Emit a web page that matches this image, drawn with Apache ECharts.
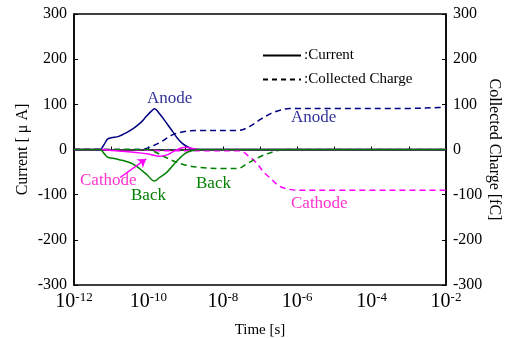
<!DOCTYPE html>
<html><head><meta charset="utf-8">
<script src="https://cdn.jsdelivr.net/npm/echarts@6/dist/echarts.min.js"></script>
<style>html,body{margin:0;padding:0;background:#fff}#c{width:515px;height:338px}</style>
</head><body><div id="c"></div>
<script>
// x values are log10(time [s])
var anodeCurrent = [[-12,0],[-11.3,0],[-11.2,10],[-11.1,23],[-11.0,26],[-10.8,29],[-10.6,37],[-10.4,47],[-10.2,60],[-10.05,74],[-9.92,85],[-9.84,90],[-9.7,79],[-9.5,57],[-9.35,40],[-9.22,25],[-9.08,13],[-8.95,6],[-8.8,1],[-8.6,0],[-2,0]];
var backCurrent = [[-12,0],[-11.3,0],[-11.2,-8],[-11.1,-17],[-11.0,-19],[-10.8,-22],[-10.4,-33],[-10.05,-55],[-9.84,-70],[-9.7,-62],[-9.5,-50],[-9.24,-26],[-9.0,-8],[-8.8,-2],[-8.6,0],[-2,0]];
var cathodeCurrent = [[-12,0],[-11.2,0],[-11.0,-2],[-10.4,-6],[-10.0,-10],[-9.7,-15],[-9.5,-12],[-9.3,-3],[-9.1,4],[-9.0,5],[-8.8,2],[-8.6,0],[-2,0]];
var anodeCharge = [[-12,0],[-10.2,0],[-10.0,4],[-9.7,15],[-9.34,33],[-9.0,40],[-8.7,42],[-7.6,42],[-7.3,50],[-7.0,66],[-6.7,80],[-6.46,87],[-6.2,91],[-5,91],[-3,91],[-2.2,93],[-2,94]];
var backCharge = [[-12,0],[-10.0,0],[-9.88,-3],[-9.42,-22],[-9.07,-33],[-8.6,-40],[-8.0,-42],[-7.6,-42],[-7.36,-32],[-7.0,-16],[-6.6,-4],[-6.3,0],[-2,0]];
var cathodeCharge = [[-12,0],[-10.2,-1],[-9.5,-3],[-8.5,-3],[-7.54,-3],[-7.3,-15],[-7.09,-30],[-6.9,-50],[-6.73,-63],[-6.5,-80],[-6.28,-87],[-6.0,-90],[-2,-90]];
var xTickExps = [-12,-10,-8,-6,-4,-2];
var yTicks = [-300,-200,-100,0,100,200,300];

var FONT = 'Liberation Serif';
var NAVY = '#000080', GREEN = '#008000', MAG = '#ff00ff';
var chart = echarts.init(document.getElementById('c'));

function line(name, data, color, dashed, yIdx, z) {
  return {name: name, type: 'line', data: data, yAxisIndex: yIdx, symbol: 'none', smooth: 0.35, z: z,
    lineStyle: {color: color, width: 1.5, type: dashed ? [6, 4] : 'solid'}, itemStyle: {color: color}, silent: true};
}
var series = [
  line('ac', anodeCharge, NAVY, true, 1, 2),
  line('cc', cathodeCharge, MAG, true, 1, 2),
  line('bc', backCharge, GREEN, true, 1, 2),
  line('ai', anodeCurrent, NAVY, false, 0, 3),
  line('ci', cathodeCurrent, MAG, false, 0, 3),
  line('bi', backCurrent, GREEN, false, 0, 4),
  {name: ':Current', type: 'line', data: [], symbol: 'none', lineStyle: {color: '#000', width: 2, type: 'solid'}, itemStyle: {color: '#000'}},
  {name: ':Collected Charge', type: 'line', data: [], symbol: 'none', lineStyle: {color: '#000', width: 2, type: [5, 4]}, itemStyle: {color: '#000'}}
];
series[4].markLine = {silent: true, symbol: ['none', 'arrow'], symbolSize: 8, label: {show: false},
  lineStyle: {color: MAG, width: 1.5, type: 'solid'},
  data: [[{coord: [-10.76, -62]}, {coord: [-10.06, -21]}]]};

var txt = function (t, x, y, c) {
  return {type: 'text', left: x, top: y, z: 10, style: {text: t, fill: c, font: '17px "' + FONT + '"'}};
};

chart.setOption({
  animation: false,
  textStyle: {fontFamily: FONT},
  grid: {left: 74, right: 69, top: 14, bottom: 53, outerBoundsMode: 'none', containLabel: false, show: true, borderColor: '#000', borderWidth: 1.5, backgroundColor: 'transparent'},
  legend: {
    data: [':Current', ':Collected Charge'], orient: 'vertical', left: 257, top: 43, itemWidth: 38, itemHeight: 10, itemGap: 9,
    itemStyle: {opacity: 0},
    textStyle: {fontFamily: FONT, fontSize: 15, color: '#000', padding: [0, 0, 0, -2]}, selectedMode: false
  },
  xAxis: {
    type: 'value', min: -12, max: -2, interval: 1,
    name: 'Time [s]', nameLocation: 'middle', nameGap: 38, nameMoveOverlap: false,
    nameTextStyle: {fontFamily: FONT, fontSize: 15, color: '#000'},
    axisLine: {lineStyle: {color: '#000', width: 1.5}},
    axisTick: {inside: true, length: 3, lineStyle: {color: '#000'}},
    splitLine: {show: false},
    axisLabel: {
      margin: 6, color: '#000',
      formatter: function (v) { return xTickExps.indexOf(v) >= 0 ? '{b|10}{s|' + v + '}' : ''; },
      rich: {b: {fontFamily: FONT, fontSize: 20, color: '#000', lineHeight: 22}, s: {fontFamily: FONT, fontSize: 13, color: '#000', verticalAlign: 'top', lineHeight: 14, padding: [0, 0, 10, 0]}}
    }
  },
  yAxis: [
    {type: 'value', min: yTicks[0], max: yTicks[yTicks.length - 1], interval: 100, position: 'left',
      name: 'Current [ μ A]', nameLocation: 'middle', nameGap: 43, nameMoveOverlap: false,
      nameTextStyle: {fontFamily: FONT, fontSize: 16, color: '#000'},
      axisLine: {show: true, lineStyle: {color: '#000', width: 1.5}},
      axisTick: {show: true, inside: true, length: 4, lineStyle: {color: '#000'}},
      splitLine: {show: false},
      axisLabel: {fontFamily: FONT, fontSize: 16, color: '#000', margin: 7}},
    {type: 'value', min: yTicks[0], max: yTicks[yTicks.length - 1], interval: 100, position: 'right',
      name: 'Collected Charge [fC]', nameLocation: 'middle', nameGap: 40, nameRotate: -90, nameMoveOverlap: false,
      nameTextStyle: {fontFamily: FONT, fontSize: 16, color: '#000'},
      axisLine: {show: true, lineStyle: {color: '#000', width: 1.5}},
      axisTick: {show: true, inside: true, length: 4, lineStyle: {color: '#000'}},
      splitLine: {show: false},
      axisLabel: {fontFamily: FONT, fontSize: 16, color: '#000', margin: 7}}
  ],
  graphic: [
    txt('Anode', 147, 90, '#333399'),
    txt('Anode', 291, 109, '#333399'),
    txt('Cathode', 80, 172, '#ff33cc'),
    txt('Cathode', 291, 195, '#ff33cc'),
    txt('Back', 131, 187, '#008000'),
    txt('Back', 196, 175, '#008000')
  ],
  series: series
});
</script></body></html>
